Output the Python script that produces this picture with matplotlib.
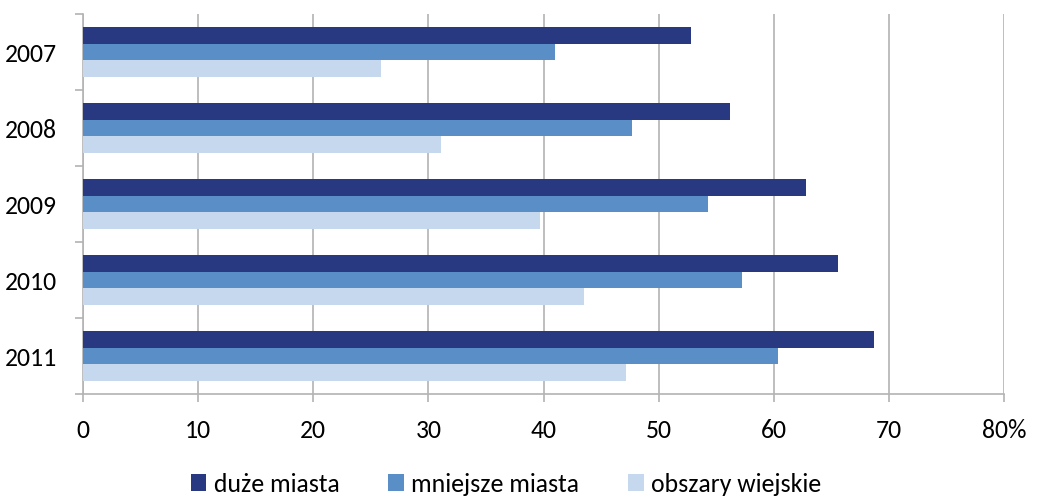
import matplotlib
matplotlib.use("Agg")
import matplotlib.pyplot as plt
import numpy as np

years = ["2007", "2008", "2009", "2010", "2011"]
series_names = ["duże miasta", "mniejsze miasta", "obszary wiejskie"]
duze_miasta = [52.8, 56.2, 62.8, 65.6, 68.7]
mniejsze_miasta = [41.0, 47.7, 54.3, 57.2, 60.4]
obszary_wiejskie = [25.9, 31.1, 39.7, 43.5, 47.2]
x_ticks = [0, 10, 20, 30, 40, 50, 60, 70, 80]
x_tick_labels = ["0", "10", "20", "30", "40", "50", "60", "70", "80%"]

colors = ["#293981", "#5A8EC7", "#C6D8ED"]
grid_color = "#B3B3B3"

plt.rcParams["font.family"] = ["Carlito", "Lato", "DejaVu Sans"]

fig = plt.figure(figsize=(10.48, 4.97), dpi=100)
ax = fig.add_axes([83 / 1048, 1 - 394 / 497, (1004 - 83) / 1048, (394 - 14) / 497])

n = len(years)
bar_h = 1 / 4.5
pos = np.arange(n)
for i, (vals, col) in enumerate(zip([duze_miasta, mniejsze_miasta, obszary_wiejskie], colors)):
    ax.barh(pos + (i - 1) * bar_h, vals, height=bar_h, color=col, label=series_names[i], zorder=3)

ax.set_ylim(n - 0.5, -0.5)
ax.set_xlim(0, 80)
ax.set_xticks(x_ticks)
ax.set_xticklabels(x_tick_labels, fontsize=18.5)
ax.set_yticks(pos)
ax.set_yticklabels(years, fontsize=18.5)
ax.set_yticks(np.arange(n + 1) - 0.5, minor=True)

ax.grid(axis="x", color=grid_color, linewidth=1.2, zorder=0)
for s in ["top", "right"]:
    ax.spines[s].set_visible(False)
for s in ["left", "bottom"]:
    ax.spines[s].set_color(grid_color)
    ax.spines[s].set_linewidth(1.2)

ax.tick_params(axis="y", which="major", length=0, pad=19)
ax.tick_params(axis="y", which="minor", length=6, color=grid_color, width=1.2)
ax.tick_params(axis="x", length=6, color=grid_color, width=1.2, pad=12)

handles, labels = ax.get_legend_handles_labels()
fig.legend(handles, labels, loc="center", bbox_to_anchor=(506 / 1048, 1 - 484 / 497),
           ncol=3, frameon=False, fontsize=18.5, handlelength=0.6, handleheight=0.6,
           handletextpad=0.3, columnspacing=1.9)

fig.savefig("out.png", dpi=100)
